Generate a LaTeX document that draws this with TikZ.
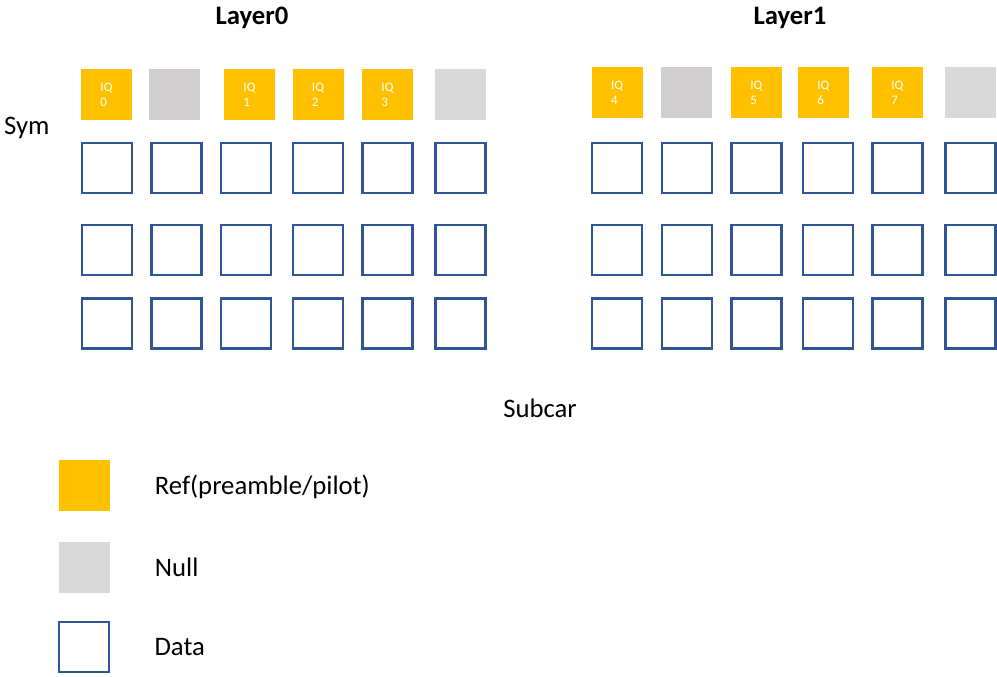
\documentclass[tikz,border=0pt]{standalone}
\usepackage{fontspec}
\setmainfont{Carlito}
\usetikzlibrary{positioning}
\definecolor{refc}{HTML}{FFC000}
\definecolor{nulldark}{HTML}{D0CECE}
\definecolor{nulllight}{HTML}{D9D9D9}
\definecolor{datac}{HTML}{2F5597}
\tikzset{
  refbox/.style={fill=refc,minimum size=51pt,inner sep=0pt,text=white,
    font=\fontsize{13}{15}\selectfont,align=left},
  nulla/.style={fill=nulldark,minimum size=51pt,inner sep=0pt},
  nullb/.style={fill=nulllight,minimum size=51pt,inner sep=0pt},
  databox/.style={draw=datac,line width=2.7pt,minimum size=50pt,inner sep=0pt},
  lbl/.style={font=\fontsize{26.7}{32}\selectfont,inner sep=0pt},
  ttl/.style={font=\fontsize{26.7}{32}\selectfont\bfseries,inner sep=0pt}
}

\begin{document}
\begin{tikzpicture}[x=1pt,y=-1pt]
  \useasboundingbox (0,0) rectangle (997,677);
  \node[ttl] (lay0) at (252,18) {Layer0};
  \node[ttl] (lay1) at (790,18) {Layer1};
  \node[lbl,anchor=west] (sym) at (4,128) {Sym};
  \node[lbl] (subcar) at (540,408) {Subcar};
  % reference / null row
  \foreach \x/\s/\t [count=\i] in {106.5/refbox/{IQ\\0},174.5/nulla/{},249.5/refbox/{IQ\\1},
      318/refbox/{IQ\\2},387.5/refbox/{IQ\\3},460.5/nullb/{}}
    \node[\s] (top0\i) at (\x,95) {\t};
  \foreach \x/\s/\t [count=\i] in {617.2/refbox/{IQ\\4},686.5/nulla/{},756.3/refbox/{IQ\\5},
      823.3/refbox/{IQ\\6},897.3/refbox/{IQ\\7},970.2/nullb/{}}
    \node[\s] (top1\i) at (\x,92.8) {\t};
  % data grid
  \foreach \x [count=\i] in {107,176.7,246,318,387.5,460.5}
    \foreach \y [count=\j] in {168,250,323.5}
      \node[databox] (da\j\i) at (\x,\y) {};
  \foreach \x [count=\i] in {617,687,756.3,828,897.5,970.3}
    \foreach \y [count=\j] in {168,250,323.5}
      \node[databox] (db\j\i) at (\x,\y) {};
  % legend
  \node[refbox] (legref) at (84,485) {};
  \node[nullb] (legnull) at (84,567) {};
  \node[databox] (legdata) at (84,647) {};
  \node[lbl,right=45pt of legref,yshift=-2pt] (txtref) {Ref(preamble/pilot)};
  \node[lbl,right=45pt of legnull] (txtnull) {Null};
  \node[lbl,right=44pt of legdata] (txtdata) {Data};
\end{tikzpicture}
\end{document}
